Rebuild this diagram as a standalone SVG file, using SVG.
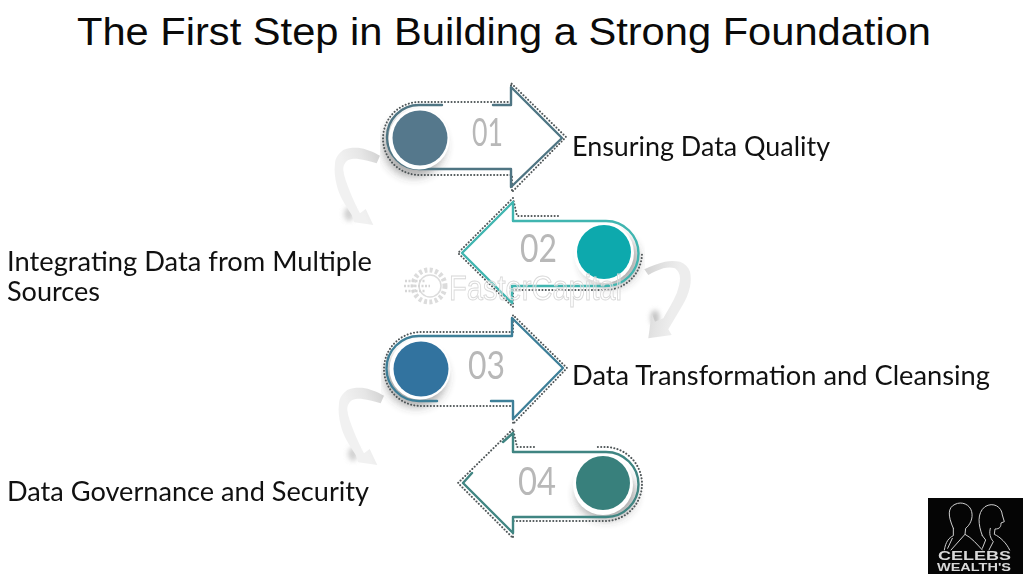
<svg xmlns="http://www.w3.org/2000/svg" xmlns:xlink="http://www.w3.org/1999/xlink" width="1024" height="576" viewBox="0 0 1024 576">
<defs>
<filter id="b6" x="-50%" y="-50%" width="200%" height="200%"><feGaussianBlur stdDeviation="5"/></filter>
<filter id="b2" x="-100%" y="-100%" width="300%" height="300%"><feGaussianBlur stdDeviation="2.5"/></filter>
<filter id="soft" x="-10%" y="-10%" width="120%" height="120%"><feGaussianBlur stdDeviation="0.4"/></filter>
<linearGradient id="cg" x1="1" y1="0" x2="0.35" y2="0.45"><stop offset="0" stop-color="#cfcfcf"/><stop offset="0.5" stop-color="#e6e6e6"/><stop offset="1" stop-color="#f1f1f1"/></linearGradient>
<linearGradient id="cg2" x1="0" y1="0.1" x2="0.7" y2="0.3"><stop offset="0" stop-color="#d2d2d2"/><stop offset="0.6" stop-color="#e4e4e4"/><stop offset="1" stop-color="#ededed"/></linearGradient>
<g id="curve">
<ellipse cx="349" cy="214" rx="5" ry="7" fill="#bdbdbd" opacity=".7" filter="url(#b2)"/>
<path fill="url(#cg)" d="M380,155.7 C374,152 365,148.5 358.3,147.7 C352,147.5 347,148 343.3,150 C338,154 335.5,158 335,163.3 C334,171 335,178 336.7,185 C339,196 346,206 351.7,215 L354.3,222.3 L373.3,225 L365.7,209 L360,213.3 C356,206 353,199 350,191.7 C347,184 344,177 343.3,170 C343,166 345,162 348.3,160 C351,159 355,158.5 358.3,159 C364,160 371,161.5 376.7,163.3 Z"/>
</g>
</defs>
<style>
.title{font-family:"Liberation Sans",Arial,sans-serif;font-size:38px;fill:#0a0a0a}
.lab{font-family:"Lato","Open Sans",sans-serif;font-size:26px;fill:#111}
.num{font-family:"Lato","Open Sans",sans-serif;font-size:38px;fill:#b8b8b8}
.dots{fill:none;stroke:#4f5658;stroke-width:2;stroke-dasharray:.1 3.2;stroke-linecap:round;stroke-linejoin:round}
.line{fill:none;stroke-width:2.4;stroke-linecap:round;stroke-linejoin:round}
.ring{fill:#fff}
.shade{fill:#4a4a4a;opacity:.45;filter:url(#b6)}
.wm{font-family:"Liberation Sans",Arial,sans-serif;font-size:35px;fill:#fff;fill-opacity:.25;stroke:#d9d9d9;stroke-width:1}
.logo{fill:none;stroke:#cfcfcf;stroke-width:3;stroke-linecap:round;stroke-linejoin:round}
.lt{font-family:"Liberation Sans",Arial,sans-serif;font-weight:700;fill:#d8d8d8}
</style>
<rect width="1024" height="576" fill="#fff"/>
<text class="title" x="77" y="45" textLength="854" lengthAdjust="spacingAndGlyphs">The First Step in Building a Strong Foundation</text>

<g id="connectors" filter="url(#soft)">
<use href="#curve" xlink:href="#curve"/>
<use href="#curve" xlink:href="#curve" transform="translate(4,240)"/>
<ellipse cx="655" cy="318" rx="4.5" ry="8" fill="#b5b5b5" opacity=".8" filter="url(#b2)"/>
<path fill="url(#cg2)" d="M644.3,269.3 C651,266 658,263.5 665,261.7 C670,260.7 675,260.7 680,261.7 C685,263.5 688.5,267 690,271.7 C691,276.5 691,281.5 690,286.7 C688.5,294 685.5,300.5 681.7,306.7 L668.3,329.3 L671.7,335 L648.3,338.3 L651.7,313.3 L655,321.7 L663.3,318.3 C668,310 673,302 676.7,293.3 C678.5,288 680,283 680,278.3 C680,274 678,270.5 675,268.3 C671,267 667,267.5 663.3,268.3 C658,270 653,272.5 648.3,275 Z"/>
</g>

<g id="node-1" filter="url(#soft)">
<ellipse class="shade" cx="414" cy="146" rx="31" ry="31"/>
<path class="dots" d="M511,102 H419.5 A36.5,36.5 0 0 0 419.5,175 H512 V192 L566,137 L511,83 Z"/>
<path class="line" stroke="#4f7583" d="M442,105 H419 A32,32 0 0 0 419,169 H511 V187 L562,138 L511,87 V105 H493"/>
<circle class="ring" cx="419" cy="139" r="30.5"/>
<circle cx="420" cy="138" r="27.5" fill="#54788c"/>
<text class="num" x="472" y="146" textLength="31" lengthAdjust="spacingAndGlyphs">01</text>
</g>

<g id="node-2" filter="url(#soft)">
<ellipse class="shade" cx="610" cy="260" rx="29" ry="27"/>
<path class="dots" d="M558,216 H517 L513,198 L458,253 L513,307 V290 H605 A37,37 0 0 0 642,253"/>
<path class="line" stroke="#3fb5b0" d="M606,221 H513 V202 L462,253 L512,303 V286 H606 A32.5,32.5 0 0 0 606,221 Z"/>
<circle class="ring" cx="604" cy="253" r="30"/>
<circle cx="604" cy="252" r="27" fill="#0aa9ad"/>
<text class="num" x="520" y="262" textLength="37" lengthAdjust="spacingAndGlyphs">02</text>
</g>

<g id="node-3" filter="url(#soft)">
<ellipse class="shade" cx="416" cy="377" rx="31" ry="30"/>
<path class="dots" d="M513,332 H421 A37,37 0 0 0 421,406 H513 V424 L567,368 L513,315 Z"/>
<path class="line" stroke="#3e7f98" d="M437,401 H419 A32.5,32.5 0 0 1 419,336 H512 V318 L563,368 L513,419 V401 H491"/>
<circle class="ring" cx="420" cy="369" r="30.5"/>
<circle cx="421" cy="369" r="27.5" fill="#33739f"/>
<text class="num" x="468" y="379" textLength="37" lengthAdjust="spacingAndGlyphs">03</text>
</g>

<g id="node-4" filter="url(#soft)">
<ellipse class="shade" cx="606" cy="494" rx="30" ry="26"/>
<path class="dots" d="M534,447 H517 L513,429 L458,483 L513,538 V521 H605 A37,37 0 0 0 605,447 H595"/>
<path class="line" stroke="#3f8582" d="M503,442 L513,433 V452 H606 A32.5,32.5 0 0 1 606,517 H513 V533 L463,483 L472,473"/>
<circle class="ring" cx="603" cy="485" r="30"/>
<circle cx="603" cy="483" r="27" fill="#39807c"/>
<text class="num" x="518" y="495" textLength="38" lengthAdjust="spacingAndGlyphs">04</text>
</g>

<g id="watermark">
<circle cx="429" cy="286" r="16" fill="none" stroke="#dcdcdc" stroke-width="5" stroke-dasharray="3 2.4"/>
<circle cx="430" cy="286" r="11" fill="none" stroke="#dcdcdc" stroke-width="1.5"/>
<path d="M405,281 H426 M404,286 H430 M405,291 H426" fill="none" stroke="#d6d6d6" stroke-width="2.5" stroke-dasharray="2 1.5"/>
<text class="wm" x="449" y="300" textLength="173" lengthAdjust="spacingAndGlyphs">FasterCapital</text>
</g>

<g id="labels">
<text class="lab" x="572" y="156" textLength="258" lengthAdjust="spacingAndGlyphs">Ensuring Data Quality</text>
<text class="lab" x="7" y="271" textLength="365" lengthAdjust="spacingAndGlyphs">Integrating Data from Multiple</text>
<text class="lab" x="7" y="301" textLength="93" lengthAdjust="spacingAndGlyphs">Sources</text>
<text class="lab" x="572" y="385" textLength="418" lengthAdjust="spacingAndGlyphs">Data Transformation and Cleansing</text>
<text class="lab" x="7" y="501" textLength="362" lengthAdjust="spacingAndGlyphs">Data Governance and Security</text>
</g>

<g id="logo">
<rect x="928" y="498" width="95" height="76" fill="#050505"/>
<g transform="translate(925,495) scale(.3333)" filter="url(#soft)">
<path class="logo" d="M85,100 C68,62 68,38 90,28 C110,18 135,28 140,50 C145,70 135,90 122,100 L120,118 C140,128 158,150 172,165 M85,100 L85,122 C72,128 62,140 58,165 M120,118 L78,165 M82,130 L68,160"/>
<path class="logo" d="M172,122 C160,90 155,55 180,35 C205,20 230,35 232,60 L238,80 L228,84 C228,96 224,102 210,102 L208,118 C226,126 245,145 254,165 M172,122 L182,135 L172,160 M196,100 C192,115 195,128 205,140 L192,165"/>
</g>
<text class="lt" x="938" y="560" font-size="12.5" textLength="73" lengthAdjust="spacingAndGlyphs">CELEBS</text>
<text class="lt" x="937" y="571" font-size="10" textLength="74" lengthAdjust="spacingAndGlyphs">WEALTH'S</text>
</g>
</svg>
